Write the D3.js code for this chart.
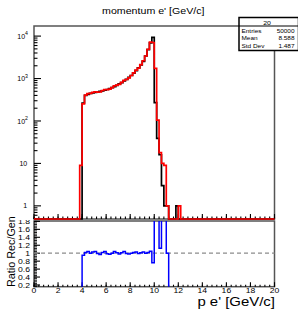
<!DOCTYPE html>
<html><head><meta charset="utf-8">
<script src="https://cdn.jsdelivr.net/npm/d3@7"></script>
<style>body{margin:0;background:#fff}svg{display:block}</style>
</head><body><script>
// ---------- data ----------
const title = "momentum e' [GeV/c]";
const xTitle = "p e' [GeV/c]";
const yRatioTitle = "Ratio Rec/Gen";
const statsTitle = "20";
const statsLabels = ["Entries", "Mean", "Std Dev"];
const statsValues = ["50000", "8.588", "1.487"];

// lower edges of the non-empty bins (bin width 0.2 GeV/c)
const binLow = [3.8, 4.0, 4.2, 4.4, 4.6, 4.8, 5.0, 5.2, 5.4, 5.6, 5.8,
  6.0, 6.2, 6.4, 6.6, 6.8, 7.0, 7.2, 7.4, 7.6, 7.8,
  8.0, 8.2, 8.4, 8.6, 8.8, 9.0, 9.2, 9.4, 9.6, 9.8,
  10.0, 10.2, 10.4, 10.6, 10.8, 11.0, 11.8, 12.0];
// generated (black)
const gen = [0, 265, 400, 425, 445, 458, 470, 482, 497, 512, 530,
  552, 578, 608, 645, 690, 745, 805, 875, 960, 1060,
  1180, 1340, 1530, 1780, 2100, 2550, 3400, 4800, 6900, 9300,
  270, 39, 16, 3, 1, 1, 1, 0];
// reconstructed (red)
const rec = [9, 252, 408, 442, 445, 472, 489, 477, 482, 522, 551,
  546, 561, 608, 671, 697, 730, 813, 910, 950, 1039,
  1180, 1367, 1576, 1762, 2121, 2627, 3400, 4896, 7245, 7068,
  1740, 105, 18, 10, 9, 1, 0, 1];

const xTickValues = [0, 2, 4, 6, 8, 10, 12, 14, 16, 18, 20];
const xTickLabels = ["0", "2", "4", "6", "8", "10", "12", "14", "16", "18", "20"];
const logTickValues = [1, 10, 100, 1000, 10000];
const logTickBase = ["1", "10", "10", "10", "10"];
const logTickExp = ["", "", "2", "3", "4"];
const ratioTickValues = [0.2, 0.4, 0.6, 0.8, 1.0, 1.2, 1.4, 1.6, 1.8];
const ratioTickLabels = ["0.2", "0.4", "0.6", "0.8", "1", "1.2", "1.4", "1.6", "1.8"];

// ---------- layout ----------
const W = 298, H = 309;
const xMin = 0, xMax = 20, binWidth = 0.2;
const nBins = Math.round((xMax - xMin) / binWidth);
const L = 34, R = 274.5, topT = 26, topB = 219, botT = 221, botB = 286.7;
const FONT = "'Liberation Sans', Arial, Helvetica, sans-serif";
const SX = 1.15;

const genFull = new Array(nBins).fill(0);
const recFull = new Array(nBins).fill(0);
binLow.forEach((b, i) => {
  const k = Math.round((b - xMin) / binWidth);
  genFull[k] = gen[i]; recFull[k] = rec[i];
});
const ratioFull = genFull.map((g, i) => g > 0 ? recFull[i] / g : 0);

const x = d3.scaleLinear().domain([xMin, xMax]).range([L, R]);
const yLog = d3.scaleLog().domain([0.49, 17300]).range([topB, topT]);
const yRat = d3.scaleLinear().domain([0.157, 1.81]).range([botB, botT]);

const svg = d3.select("body").append("svg").attr("width", W).attr("height", H)
  .style("font-family", FONT);
const defs = svg.append("defs");
defs.append("clipPath").attr("id", "botpad").append("rect")
  .attr("x", 0).attr("y", 220).attr("width", W).attr("height", H - 220);
defs.append("clipPath").attr("id", "ratioframe").append("rect")
  .attr("x", L).attr("y", botT).attr("width", R - L).attr("height", botB - botT);

function txt(g, px, py, s, size, anchor, sx = SX) {
  return g.append("text")
    .attr("transform", `translate(${px},${py}) scale(${sx},1)`)
    .attr("text-anchor", anchor).attr("font-size", size)
    .attr("fill", "#000").text(s);
}

// ---------- title ----------
txt(svg, 153.3, 14.2, title, 9.5, "middle", 1.12);

// ---------- top pad ----------
const topPad = svg.append("g");
topPad.append("rect").attr("x", L).attr("y", topT).attr("width", R - L).attr("height", topB - topT)
  .attr("fill", "none").attr("stroke", "#555").attr("stroke-width", 1.5);

const xMinor = d3.range(0, 20.0001, 0.4);
topPad.selectAll(".xmin").data(xMinor).join("line")
  .attr("x1", d => x(d)).attr("x2", d => x(d))
  .attr("y1", topB).attr("y2", topB - 2.5).attr("stroke", "#000").attr("stroke-width", 1.1);
topPad.selectAll(".xmaj").data(xTickValues).join("line")
  .attr("x1", d => x(d)).attr("x2", d => x(d))
  .attr("y1", topB).attr("y2", topB - 5).attr("stroke", "#000").attr("stroke-width", 1.1);

const logMinor = [];
for (let e = -1; e <= 4; e++) for (let k = 2; k <= 9; k++) {
  const v = k * Math.pow(10, e);
  if (v >= yLog.domain()[0] && v <= yLog.domain()[1]) logMinor.push(v);
}
topPad.selectAll(".ymin").data(logMinor).join("line")
  .attr("x1", L).attr("x2", L + 3.5).attr("y1", d => yLog(d)).attr("y2", d => yLog(d))
  .attr("stroke", "#000").attr("stroke-width", 1.1);
topPad.selectAll(".ymaj").data(logTickValues).join("line")
  .attr("x1", L).attr("x2", L + 7).attr("y1", d => yLog(d)).attr("y2", d => yLog(d))
  .attr("stroke", "#000").attr("stroke-width", 1.1);
logTickValues.forEach((v, i) => {
  const t = topPad.append("text").attr("text-anchor", "end").attr("font-size", 7)
    .attr("transform", `translate(${logTickExp[i] ? 28 : 27.2},${yLog(v) + 2.6})`);
  t.append("tspan").text(logTickBase[i]);
  if (logTickExp[i]) t.append("tspan").attr("dy", -3.4).attr("font-size", 5.2).text(logTickExp[i]);
});

function histPoints(vals, yf) {
  const pts = vals.map((v, i) => [x(xMin + i * binWidth), yf(v)]);
  pts.push([x(xMax), yf(vals[vals.length - 1])]);
  return pts;
}
const logY = (v) => v > 0 ? yLog(v) : topB;
const stepLine = d3.line().curve(d3.curveStepAfter);

topPad.append("path").attr("d", stepLine(histPoints(genFull, logY)))
  .attr("fill", "none").attr("stroke", "#000").attr("stroke-width", 1.7);
topPad.append("path").attr("d", stepLine(histPoints(recFull, logY)))
  .attr("fill", "none").attr("stroke", "#ff0000").attr("stroke-width", 1.7);

// ---------- bottom pad ----------
const bot = svg.append("g").attr("clip-path", "url(#botpad)");
bot.append("rect").attr("x", L).attr("y", botT).attr("width", R - L).attr("height", botB - botT)
  .attr("fill", "none").attr("stroke", "#555").attr("stroke-width", 1.5);

bot.selectAll(".bxmin").data(xMinor).join("line")
  .attr("x1", d => x(d)).attr("x2", d => x(d))
  .attr("y1", botB).attr("y2", botB - 2).attr("stroke", "#000").attr("stroke-width", 1.1);
bot.selectAll(".bxmaj").data(xTickValues).join("line")
  .attr("x1", d => x(d)).attr("x2", d => x(d))
  .attr("y1", botB).attr("y2", botB - 4.5).attr("stroke", "#000").attr("stroke-width", 1.1);
xTickValues.forEach((v, i) => txt(bot, x(v), 293, xTickLabels[i], 7.5, "middle"));

const rMinor = d3.range(0.16, 1.8001, 0.04);
bot.selectAll(".rmin").data(rMinor).join("line")
  .attr("x1", L).attr("x2", L + 3).attr("y1", d => yRat(d)).attr("y2", d => yRat(d))
  .attr("stroke", "#000").attr("stroke-width", 0.9);
bot.selectAll(".rmaj").data(ratioTickValues).join("line")
  .attr("x1", L).attr("x2", L + 6).attr("y1", d => yRat(d)).attr("y2", d => yRat(d))
  .attr("stroke", "#000").attr("stroke-width", 1.1);
ratioTickValues.forEach((v, i) => txt(bot, 30, yRat(v) + 2.7, ratioTickLabels[i], 7.5, "end"));

bot.append("line").attr("x1", L).attr("x2", R).attr("y1", yRat(1)).attr("y2", yRat(1))
  .attr("stroke", "#8c8c8c").attr("stroke-width", 1.3).attr("stroke-dasharray", "4,3");

const ratY = (v) => yRat(v);
bot.append("g").attr("clip-path", "url(#ratioframe)").append("path")
  .attr("d", stepLine(histPoints(ratioFull, ratY)))
  .attr("fill", "none").attr("stroke", "#0000ff").attr("stroke-width", 1.5);

txt(bot, 275, 305.5, xTitle, 13, "end");
svg.append("text").attr("transform", "translate(15,287) rotate(-90)")
  .attr("font-size", 10.8).attr("text-anchor", "start").text(yRatioTitle);

// ---------- stats box ----------
const st = svg.append("g");
st.append("rect").attr("x", 239).attr("y", 17.5).attr("width", 59.5).attr("height", 33)
  .attr("fill", "#fff").attr("stroke", "#000").attr("stroke-width", 1.5);
st.append("line").attr("x1", 239).attr("x2", 298).attr("y1", 26).attr("y2", 26)
  .attr("stroke", "#000").attr("stroke-width", 1);
txt(st, 267, 24.6, statsTitle, 6, "middle");
const rowsY = [32.5, 40.3, 48];
statsLabels.forEach((s, i) => {
  txt(st, 241.5, rowsY[i], s, 5.6, "start");
  txt(st, 294.5, rowsY[i], statsValues[i], 5.6, "end");
});
</script></body></html>
